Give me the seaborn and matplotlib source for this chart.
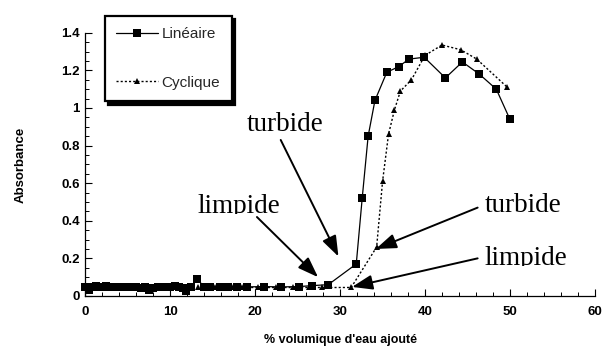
import matplotlib
matplotlib.use("Agg")
import matplotlib.pyplot as plt
import seaborn as sns
import pandas as pd
from matplotlib.ticker import MultipleLocator
from matplotlib.transforms import Bbox, TransformedBbox

# Water volume fraction (%) and absorbance, linear addition
x_lin = [0.0, 0.4, 0.8, 1.2, 1.6, 2.0, 2.4, 2.8, 3.2, 3.6, 4.0, 4.5, 5.0, 5.5,
         6.0, 6.5, 7.0, 7.5, 8.0, 8.5, 9.0, 9.5, 10.0, 10.5, 11.0, 11.5, 11.9,
         12.4, 13.1, 14.0, 14.7, 15.8, 16.8, 17.8, 19.0, 21.0, 23.0, 25.2, 26.7,
         28.6, 31.9, 32.6, 33.3, 34.1, 35.5, 36.9, 38.1, 39.9, 42.4, 44.4, 46.4,
         48.4, 50.0]
y_lin = [0.05, 0.03, 0.05, 0.055, 0.05, 0.05, 0.055, 0.05, 0.05, 0.05, 0.05, 0.05,
         0.048, 0.048, 0.045, 0.04, 0.045, 0.03, 0.04, 0.045, 0.05, 0.045, 0.05,
         0.055, 0.045, 0.04, 0.025, 0.045, 0.09, 0.05, 0.05, 0.05, 0.05, 0.05,
         0.048, 0.05, 0.048, 0.05, 0.055, 0.06, 0.17, 0.52, 0.85, 1.04, 1.19,
         1.22, 1.26, 1.27, 1.16, 1.245, 1.18, 1.10, 0.94]

# Cyclic addition
x_cyc = [0.0, 0.5, 1.0, 1.5, 2.0, 2.5, 3.0, 3.5, 4.0, 4.5, 5.0, 5.5, 6.0, 6.5,
         7.0, 7.5, 8.0, 8.5, 9.0, 9.5, 10.0, 10.5, 11.0, 11.5, 12.0, 12.6, 13.2,
         13.8, 14.5, 15.2, 16.3, 17.3, 18.4, 20.3, 22.4, 24.5, 26.3, 27.9, 31.3,
         34.3, 35.0, 35.7, 36.4, 37.1, 38.4, 40.0, 42.0, 44.2, 46.1, 49.7]
y_cyc = [0.045, 0.045, 0.04, 0.045, 0.045, 0.045, 0.045, 0.045, 0.045, 0.045,
         0.045, 0.045, 0.04, 0.04, 0.045, 0.04, 0.045, 0.045, 0.045, 0.045, 0.045,
         0.045, 0.04, 0.04, 0.045, 0.05, 0.05, 0.05, 0.045, 0.045, 0.045, 0.045,
         0.045, 0.045, 0.045, 0.045, 0.045, 0.045, 0.045, 0.26, 0.61, 0.86, 0.99,
         1.09, 1.15, 1.28, 1.335, 1.31, 1.26, 1.11]

labels = ["Linéaire", "Cyclique"]
x_ticks = [0, 10, 20, 30, 40, 50, 60]
y_ticks = [0, 0.2, 0.4, 0.6, 0.8, 1, 1.2, 1.4]
y_ticklabels = ["0", "0.2", "0.4", "0.6", "0.8", "1", "1.2", "1.4"]

sns.set_theme(style="ticks")
plt.rcParams["font.family"] = ["Liberation Sans", "DejaVu Sans"]

fig = plt.figure(figsize=(6.02, 3.49), dpi=100)
ax = fig.add_axes([0.142, 0.152, 0.846, 0.754])

df_lin = pd.DataFrame({"x": x_lin, "y": y_lin})
df_cyc = pd.DataFrame({"x": x_cyc, "y": y_cyc})

sns.lineplot(data=df_cyc, x="x", y="y", ax=ax, sort=False, estimator=None,
             color="black", lw=1.0, linestyle=(0, (1.5, 1.5)), marker="^",
             markersize=5, markeredgewidth=0, label=labels[1], clip_on=False)
sns.lineplot(data=df_lin, x="x", y="y", ax=ax, sort=False, estimator=None,
             color="black", lw=0.9, marker="s", markersize=5.5,
             markeredgewidth=0, label=labels[0], clip_on=False)

ax.set_xlim(0, 60)
ax.set_ylim(0, 1.4)
ax.set_xticks(x_ticks)
ax.set_yticks(y_ticks)
ax.set_yticklabels(y_ticklabels)
ax.xaxis.set_minor_locator(MultipleLocator(2))
ax.yaxis.set_minor_locator(MultipleLocator(0.05))

for s in ("top", "right"):
    ax.spines[s].set_visible(False)
for s in ("left", "bottom"):
    ax.spines[s].set_color("black")
    ax.spines[s].set_linewidth(0.9)

ax.tick_params(axis="both", which="major", direction="in", length=5,
               width=0.8, color="black", labelsize=9.5, labelcolor="black")
ax.tick_params(axis="both", which="minor", direction="in", length=3,
               width=0.7, color="black")
ax.tick_params(axis="x", which="major", pad=7)
ax.tick_params(axis="y", which="major", pad=4)
for t in ax.get_xticklabels() + ax.get_yticklabels():
    t.set_fontweight("bold")

ax.set_xlabel("% volumique d'eau ajouté", fontsize=9, fontweight="bold",
              color="black")
ax.set_ylabel("Absorbance", fontsize=9.5, fontweight="bold", color="black")
ax.xaxis.set_label_coords(0.5, -0.145)
ax.yaxis.set_label_coords(-0.116, 0.5)

# Legend with solid drop shadow
handles, labs = ax.get_legend_handles_labels()
order = [labs.index(labels[0]), labs.index(labels[1])]
leg = ax.legend([handles[i] for i in order], [labs[i] for i in order],
                loc="upper left", bbox_to_anchor=(105 / 602, 1 - 16 / 349),
                bbox_transform=fig.transFigure, borderaxespad=0, frameon=True,
                fancybox=False,
                shadow={"color": "black", "alpha": 1, "ox": 2.5, "oy": -2.5},
                edgecolor="black", facecolor="white", framealpha=1,
                fontsize=11, handlelength=2.7, handletextpad=0.25,
                labelspacing=2.25, borderpad=0.75, numpoints=1)
leg.get_frame().set_linewidth(1.6)

# Annotations: phase state labels with arrows
serif = ["Liberation Serif", "DejaVu Serif"]
notes = [
    ("turbide", (19.0, 0.878), None),
    ("limpide", (13.2, 0.44), 213.5),
    ("turbide", (47.0, 0.447), None),
    ("limpide", (47.0, 0.165), 265.5),
]
for txt, (tx, ty), clip_px in notes:
    t = ax.text(tx, ty, txt, fontsize=19.5, family=serif, color="black",
                ha="left", va="baseline")
    if clip_px is not None:
        box = Bbox([[0, 1 - clip_px / 349], [1, 1]])
        t.set_clip_box(TransformedBbox(box, fig.transFigure))
        t.set_clip_on(True)

arrows = [
    ((23.0, 0.83), (29.8, 0.21)),
    ((20.2, 0.42), (27.4, 0.10)),
    ((46.2, 0.47), (34.2, 0.25)),
    ((46.2, 0.20), (31.4, 0.048)),
]
for start, tip in arrows:
    ax.annotate("", xy=tip, xytext=start,
                arrowprops=dict(arrowstyle="-|>,head_length=1.25,head_width=0.45",
                                color="black", lw=1.4, mutation_scale=10,
                                shrinkA=0, shrinkB=0))

fig.savefig("out.png", dpi=100)
